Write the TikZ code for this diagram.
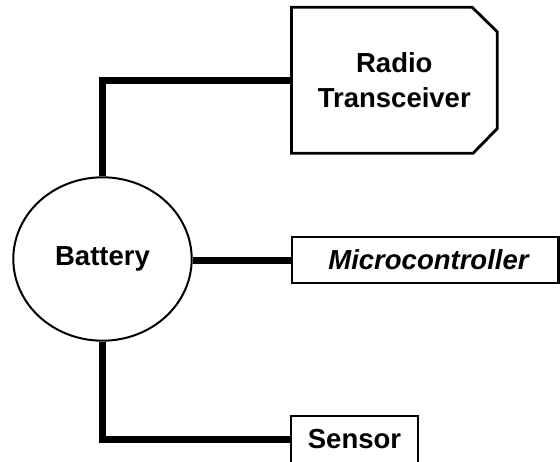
\documentclass[tikz,border=0pt]{standalone}
\usepackage{fontspec}
\setmainfont{Liberation Sans}
\usetikzlibrary{shapes.geometric}
\begin{document}
\begin{tikzpicture}[x=1pt,y=-1pt,
  lbl/.style={font=\fontsize{27.5}{35}\selectfont\bfseries, align=center, inner sep=0pt},
  boxthin/.style={lbl, draw, line width=2.2pt, minimum height=46pt},
  wire/.style={line width=7pt}]
\useasboundingbox (0,0) rectangle (560,461);
\node[lbl, minimum width=205.3pt, minimum height=145.5pt] (radio) at (394.3,80.2) {Radio\\Transceiver};
\draw[line width=2.8pt, line join=miter] (radio.north west) -- ([xshift=-25pt]radio.north east) -- ([yshift=-24.5pt]radio.north east) -- ([yshift=24.5pt]radio.south east) -- ([xshift=-24pt]radio.south east) -- (radio.south west) -- cycle;
\node[lbl, ellipse, draw, line width=2pt, minimum width=178.4pt, minimum height=163.4pt] (bat) at (102.5,259) {Battery};
\node[boxthin, minimum width=266.8pt] (mc) at (425.1,260) {\hspace*{8pt}\textit{Microcontroller}};
\node[boxthin, minimum width=127pt, minimum height=47pt] (sen) at (354.5,439.5) {Sensor};
\draw[wire] (bat.north) |- (radio.west);
\draw[wire] (bat.east |- mc.west) -- (mc.west);
\draw[wire] (bat.south) |- (sen.west);
\end{tikzpicture}
\end{document}
